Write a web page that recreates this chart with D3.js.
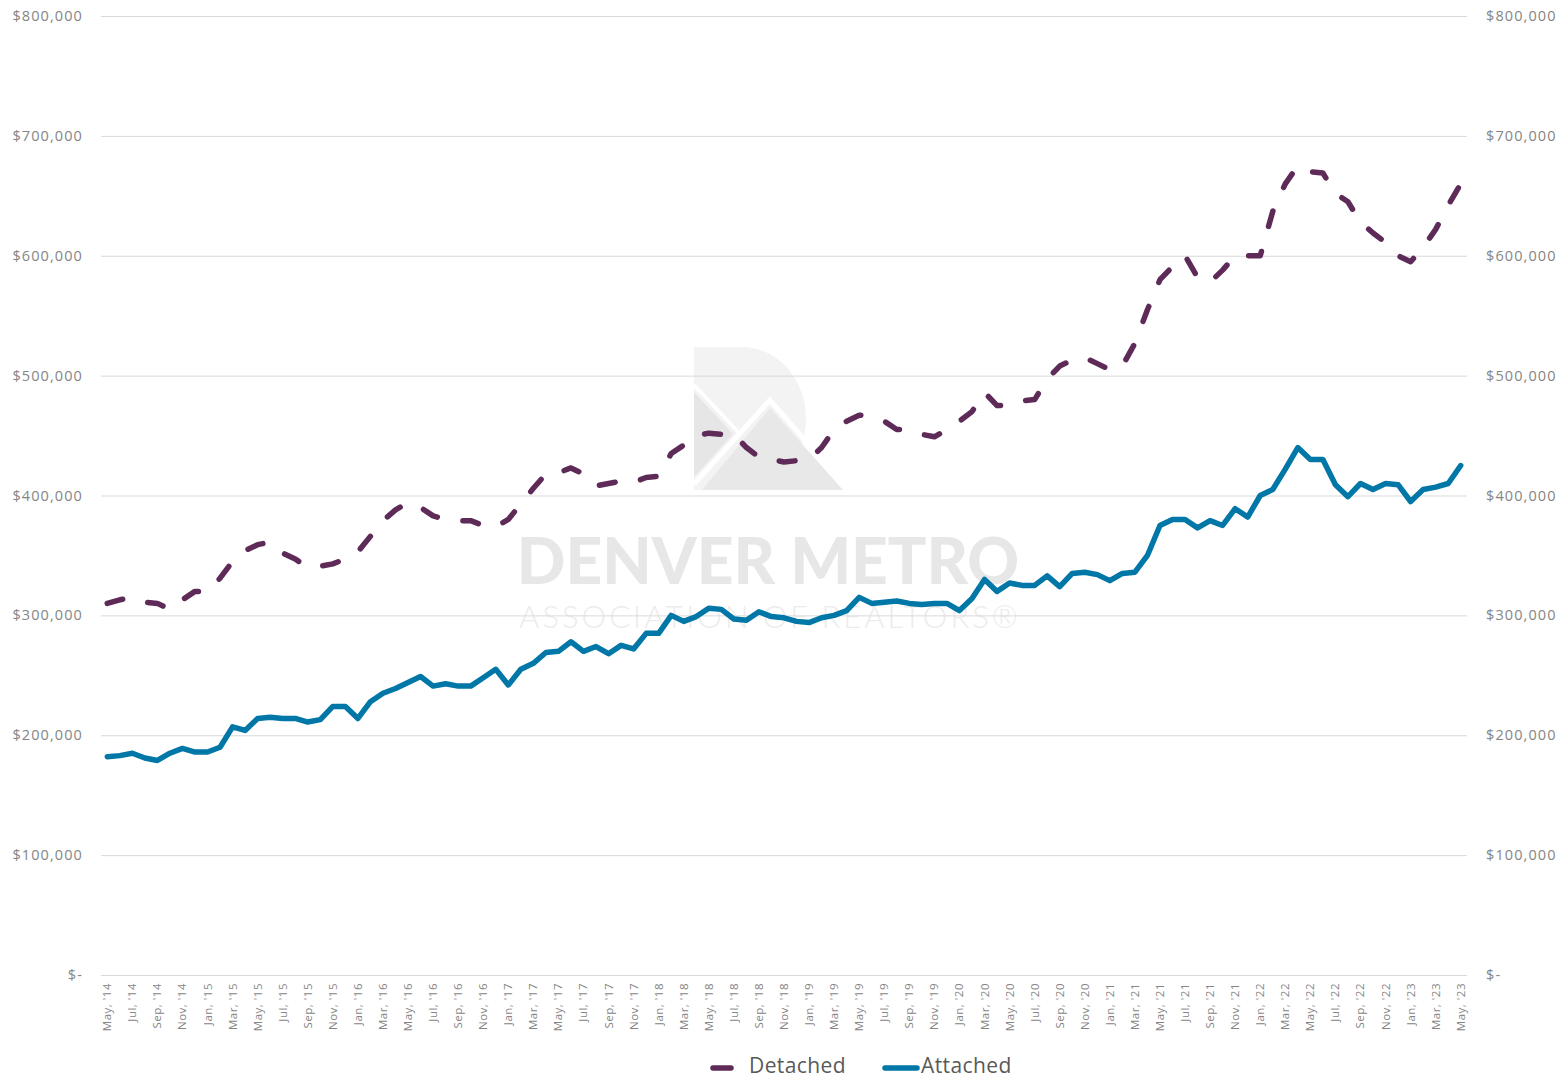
<!DOCTYPE html>
<html lang="en">
  <head>
    <meta charset="utf-8">
    <title>Denver Metro - Median Price Detached vs Attached</title>
    <script type="text/javascript" src="https://cdn.jsdelivr.net/npm/d3@7"></script>
    <style type="text/css">
      body { margin: 0; background: #fff; }
      text { font-family: "Open Sans", sans-serif; }
    </style>
  </head>
  <body>
    <script type="text/javascript">

      //Width and height
      var w = 1564;
      var h = 1081;

      //Months, May '14 .. May '23
      var months = d3.timeMonth.range(new Date(2014, 4, 1), new Date(2023, 5, 1));

      //Y axis ticks
      var yTicks = [0, 100000, 200000, 300000, 400000, 500000, 600000, 700000, 800000];

      //Series (in $ thousands)
      var detached = [
        310, 313, 315, 311, 310, 305, 313, 320, 320, 331, 345, 354,
        359, 361, 352, 347, 340, 341, 343, 347, 353, 366, 379, 388,
        394, 390, 383, 380, 379, 379, 375, 374, 380, 393, 406, 418,
        419, 423, 418, 408, 410, 412, 411, 415, 416, 435, 442, 450,
        452, 451, 451, 440, 432, 430, 428, 429, 430, 440, 455, 462,
        467, 466, 462, 455, 455, 451, 449, 455, 462, 470, 486, 475,
        475, 479, 480, 497, 508, 513, 515, 510, 505, 508, 527, 555,
        580, 591, 600, 582, 578, 588, 600, 600, 600, 637, 660, 675,
        670, 669, 652, 645, 628, 619, 611, 600, 595, 607, 622, 642,
        660
      ];

      var attached = [
        182, 183, 185, 181, 179, 185, 189, 186, 186, 190, 207, 204,
        214, 215, 214, 214, 211, 213, 224, 224, 214, 228, 235, 239,
        244, 249, 241, 243, 241, 241, 248, 255, 242, 255, 260, 269,
        270, 278, 270, 274, 268, 275, 272, 285, 285, 300, 295, 299,
        306, 305, 297, 296, 303, 299, 298, 295, 294, 298, 300, 304,
        315, 310, 311, 312, 310, 309, 310, 310, 304, 314, 330, 320,
        327, 325, 325, 333, 324, 335, 336, 334, 329, 335, 336, 350,
        375, 380, 380, 373, 379, 375, 389, 382, 400, 405, 422, 440,
        430, 430, 409, 399, 410, 405, 410, 409, 395, 405, 407, 410,
        425
      ];

      var seriesNames = ["Detached", "Attached"];
      var colors = ["#5e2a58", "#0077a6"];

      var fmtMonth = d3.timeFormat("%b, '%y");
      var fmtMoney = function(v) { return v === 0 ? "$-" : "$" + d3.format(",")(v); };

      //Scales
      var x = d3.scalePoint()
                .domain(months)
                .range([101, 1467])
                .padding(0.5);

      var y = d3.scaleLinear()
                .domain([0, 800000])
                .range([975, 16]);

      //Create SVG element
      var svg = d3.select("body")
                  .append("svg")
                  .attr("width", w)
                  .attr("height", h);

      //Watermark
      var wm = svg.append("g");
      wm.append("path")
        .attr("d", "M694,347 L742,347 A64,71.5 0 0 1 742,490 L694,490 Z")
        .style("fill", "#f3f3f3");
      wm.append("path")
        .attr("d", "M694,392 L733,434 L694,477 Z")
        .style("fill", "#e6e6e6");
      wm.append("path")
        .attr("d", "M694,385 L740,434")
        .style("stroke", "#fff").style("stroke-width", 4);
      wm.append("path")
        .attr("d", "M848,490 L770,400 L694,484")
        .style("fill", "none").style("stroke", "#fff").style("stroke-width", 5);
      wm.append("path")
        .attr("d", "M702,490 L770,408 L843,490 Z")
        .style("fill", "#e8e8e8");
      wm.append("text")
        .attr("x", 768).attr("y", 584)
        .attr("text-anchor", "middle")
        .style("font-family", "Lato, sans-serif")
        .style("font-weight", 900)
        .style("font-size", "64px")
        .style("fill", "#e7e7e7")
        .text("DENVER METRO");
      wm.append("text")
        .attr("x", 770).attr("y", 628)
        .attr("text-anchor", "middle")
        .style("font-family", "Lato, sans-serif")
        .style("font-weight", 300)
        .style("font-size", "31px")
        .style("letter-spacing", "3px")
        .style("fill", "#ececec")
        .text("ASSOCIATION OF REALTORS\u00ae");

      //Gridlines
      svg.append("g")
         .selectAll("line")
         .data(yTicks)
         .enter()
         .append("line")
         .attr("x1", 101)
         .attr("x2", 1467)
         .attr("y1", function(d) { return y(d) + 0.5; })
         .attr("y2", function(d) { return y(d) + 0.5; })
         .style("stroke", "#d9d9d9")
         .style("stroke-width", 1);

      //Left and right y labels
      var yl = svg.append("g").attr("class", "ylabels");
      yl.selectAll("text.l")
        .data(yTicks)
        .enter()
        .append("text")
        .attr("x", 83)
        .attr("y", function(d) { return y(d) + 5; })
        .attr("text-anchor", "end")
        .style("font-size", "14.5px")
        .style("letter-spacing", "1.1px")
        .style("fill", "#858585")
        .text(fmtMoney);
      yl.selectAll("text.r")
        .data(yTicks)
        .enter()
        .append("text")
        .attr("x", 1486)
        .attr("y", function(d) { return y(d) + 5; })
        .attr("text-anchor", "start")
        .style("font-size", "14.5px")
        .style("letter-spacing", "1.1px")
        .style("fill", "#858585")
        .text(fmtMoney);

      //X labels (every other month)
      svg.append("g")
         .selectAll("text")
         .data(months.filter(function(d, i) { return i % 2 === 0; }))
         .enter()
         .append("text")
         .attr("transform", function(d) { return "translate(" + (x(d) + 4) + ",983) rotate(-90)"; })
         .attr("text-anchor", "end")
         .style("font-size", "11.5px")
         .style("letter-spacing", "0.5px")
         .style("fill", "#858585")
         .text(fmtMonth);

      //Lines
      var line = d3.line()
                   .x(function(d, i) { return x(months[i]); })
                   .y(function(d) { return y(d * 1000); });

      svg.append("path")
         .datum(attached)
         .attr("d", line)
         .style("fill", "none")
         .style("stroke", colors[1])
         .style("stroke-width", 5.5)
         .style("stroke-linejoin", "round")
         .style("stroke-linecap", "round");

      svg.append("path")
         .datum(detached)
         .attr("d", line)
         .style("fill", "none")
         .style("stroke", colors[0])
         .style("stroke-width", 5.5)
         .style("stroke-dasharray", "16,26")
         .style("stroke-linejoin", "round")
         .style("stroke-linecap", "round");

      //Legend
      var lg = svg.append("g");
      lg.append("line")
        .attr("x1", 713).attr("x2", 731)
        .attr("y1", 1068).attr("y2", 1068)
        .style("stroke", colors[0])
        .style("stroke-width", 5.5)
        .style("stroke-linecap", "round");
      lg.append("text")
        .attr("x", 749).attr("y", 1066)
        .attr("dy", "0.35em")
        .style("font-size", "21px")
        .style("letter-spacing", "0.4px")
        .style("fill", "#595959")
        .text(seriesNames[0]);
      lg.append("line")
        .attr("x1", 885).attr("x2", 917)
        .attr("y1", 1068).attr("y2", 1068)
        .style("stroke", colors[1])
        .style("stroke-width", 5.5)
        .style("stroke-linecap", "round");
      lg.append("text")
        .attr("x", 921).attr("y", 1066)
        .attr("dy", "0.35em")
        .style("font-size", "21px")
        .style("letter-spacing", "0.4px")
        .style("fill", "#595959")
        .text(seriesNames[1]);

    </script>
  </body>
</html>
